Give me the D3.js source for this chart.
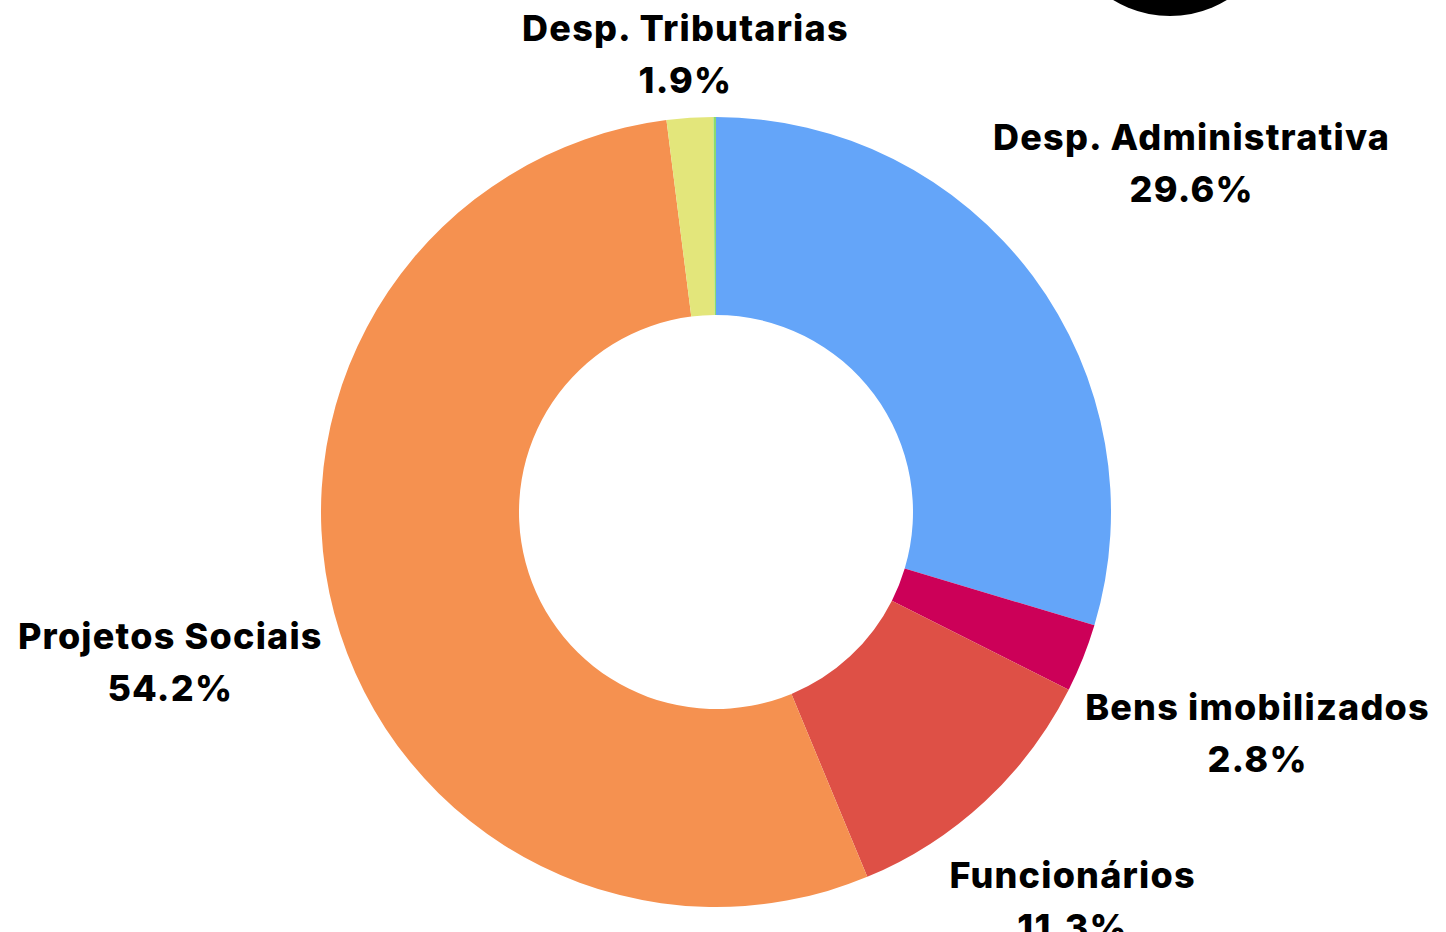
<!DOCTYPE html>
<html>
<head>
	<meta charset="utf-8">
	<style>
		body { margin: 0; background: #fff; }
		text { font-family: Inter, 'Noto Sans', sans-serif; font-weight: 800; fill: #000; }
	</style>
</head>
<body>

	<div id="chart"></div>

	<script src="https://cdnjs.cloudflare.com/ajax/libs/d3/7.8.5/d3.min.js"></script>

	<script>
		const categories = ['Desp. Administrativa', 'Bens imobilizados', 'Funcionários', 'Projetos Sociais', 'Desp. Tributarias', 'Outros'];
		const values = [29.6, 2.8, 11.3, 54.2, 1.9, 0.1];
		const colors = ['#64a5f9', '#cc0058', '#de5046', '#f59150', '#e3e67b', '#8cda6e'];
		const showLabel = [true, true, true, true, true, false];

		const w = 1446;
		const h = 932;
		const cx = 716;
		const cy = 512;
		const outerR = 395;
		const innerR = 197;
		const gap = 10;
		const shiftY = 5;

		const svg = d3.select('#chart')
			.append('svg')
			.attr('width', w)
			.attr('height', h);

		// logo circle cut off at the top edge
		svg.append('circle')
			.attr('cx', 1170)
			.attr('cy', -93)
			.attr('r', 109)
			.attr('fill', '#000');

		const data = categories.map((c, i) => ({ name: c, value: values[i], color: colors[i], label: showLabel[i] }));

		const pie = d3.pie()
			.sort(null)
			.value(d => d.value);

		const arc = d3.arc()
			.innerRadius(innerR)
			.outerRadius(outerR);

		const g = svg.append('g')
			.attr('transform', `translate(${cx}, ${cy})`);

		const arcs = pie(data);

		g.selectAll('path')
			.data(arcs)
			.enter()
			.append('path')
			.attr('d', arc)
			.attr('fill', d => d.data.color);

		arcs.filter(d => d.data.label).forEach(d => {
			const label = g.append('text')
				.attr('text-anchor', 'middle')
				.style('font-size', '36px')
				.style('letter-spacing', '1.2px');

			label.append('tspan')
				.attr('x', 0)
				.attr('y', 0)
				.text(d.data.name);

			label.append('tspan')
				.attr('x', 0)
				.attr('y', 52)
				.text(d.data.value.toFixed(1) + '%');

			const box = label.node().getBBox();
			const mid = (d.startAngle + d.endAngle) / 2;
			const dx = Math.sin(mid);
			const dy = -Math.cos(mid);
			const t = outerR + gap + Math.abs(dx) * box.width / 2 + Math.abs(dy) * box.height / 2;
			const bx = dx * t - (box.x + box.width / 2);
			const by = dy * t - (box.y + box.height / 2) + shiftY;

			label.attr('transform', `translate(${bx}, ${by})`);
		});
	</script>

</body>
</html>
